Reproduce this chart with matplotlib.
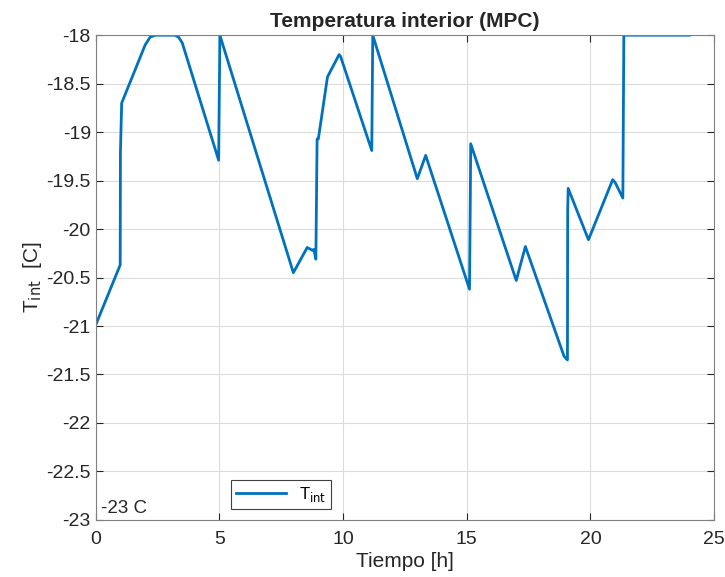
import matplotlib.pyplot as plt

plt.rcParams['font.family'] = ['Liberation Sans', 'DejaVu Sans']

# Puntos (tiempo en horas, temperatura en C)
tiempo = [0.0, 0.99, 1.0, 1.05, 2.0, 2.2, 2.4, 3.2, 3.35, 3.5, 4.97, 5.02,
          7.99, 8.55, 8.62, 8.77, 8.82, 8.90, 8.95, 9.0, 9.37, 9.84, 9.9,
          11.16, 11.2, 13.0, 13.34, 15.11, 15.14, 15.16, 17.0, 17.37,
          18.93, 19.07, 19.08, 19.1, 19.92, 20.9, 21.0, 21.31, 21.35, 24.0]
temp = [-20.99, -20.37, -19.2, -18.70, -18.1, -18.02, -18.0, -18.0, -18.02, -18.08, -19.29, -18.0,
        -20.45, -20.19, -20.2, -20.22, -20.21, -20.31, -19.07, -19.07, -18.43, -18.2, -18.22,
        -19.19, -18.0, -19.48, -19.24, -20.62, -19.8, -19.12, -20.53, -20.18,
        -21.31, -21.35, -19.8, -19.58, -20.11, -19.49, -19.52, -19.68, -18.0, -18.0]

yticks = [-23, -22.5, -22, -21.5, -21, -20.5, -20, -19.5, -19, -18.5, -18]
ytick_labels = ['-23', '-22.5', '-22', '-21.5', '-21', '-20.5', '-20', '-19.5', '-19', '-18.5', '-18']
xticks = [0, 5, 10, 15, 20, 25]

fig = plt.figure(figsize=(7.25, 5.77), dpi=100)
ax = fig.add_axes([0.132, 0.099, 0.853, 0.840])

ax.plot(tiempo, temp, color='#0072BD', linewidth=2, label='T$_{\\mathrm{int}}$')

ax.set_xlim(0, 25)
ax.set_ylim(-23, -18)
ax.set_xticks(xticks)
ax.set_yticks(yticks)
ax.set_yticklabels(ytick_labels)
ax.grid(True, color='#dcdcdc', linewidth=0.8)
ax.set_axisbelow(True)
ax.tick_params(direction='in', length=5, labelsize=14, colors='#262626', top=True, right=True)
ax.tick_params(axis='x', pad=8)
for s in ax.spines.values():
    s.set_color('#808080')

ax.set_xlabel('Tiempo [h]', fontsize=15, color='#262626', labelpad=3)
ax.set_ylabel('T$_{\\mathrm{int}}$  [C]', fontsize=15, color='#262626', labelpad=2)
ax.set_title('Temperatura interior (MPC)', fontsize=15, fontweight='bold', color='#262626', pad=6)

ax.text(0.2, -22.97, '-23 C', fontsize=13.5, color='#262626', va='bottom')

leg = ax.legend(loc='lower left', bbox_to_anchor=(0.205, 0.005), fontsize=12,
                fancybox=False, framealpha=1, edgecolor='#404040', handlelength=3.0,
                borderpad=0.3)
leg.get_frame().set_linewidth(0.8)

fig.savefig('out.png', dpi=100)
